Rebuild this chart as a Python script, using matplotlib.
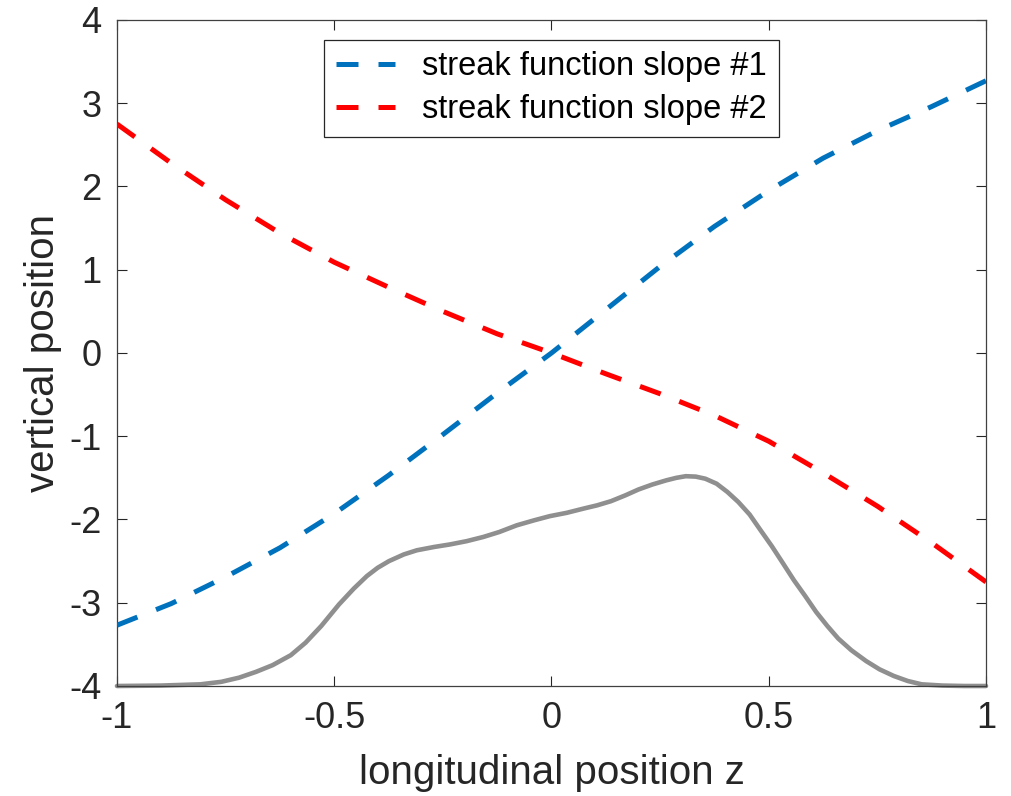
import numpy as np
import matplotlib
matplotlib.use("Agg")
import matplotlib.pyplot as plt

plt.rcParams["font.family"] = ["Liberation Sans", "DejaVu Sans"]

# =========================
# Data
# =========================

z_slope = [-1.0, -0.875, -0.75, -0.625, -0.5, -0.375, -0.25, -0.125,
           0.0, 0.125, 0.25, 0.375, 0.5, 0.625, 0.75, 0.875, 1.0]

slope_1 = [-3.27, -3.01, -2.69, -2.34, -1.93, -1.47, -0.98, -0.48,
           0.0, 0.52, 1.04, 1.52, 1.95, 2.34, 2.67, 2.96, 3.27]

slope_2 = [2.75, 2.28, 1.84, 1.44, 1.09, 0.79, 0.50, 0.23,
           0.0, -0.25, -0.49, -0.75, -1.06, -1.44, -1.84, -2.28, -2.75]

z_profile = [-1.0, -0.9, -0.808, -0.76, -0.719, -0.68, -0.642, -0.6, -0.566, -0.53,
             -0.489, -0.455, -0.425, -0.4, -0.374, -0.34, -0.31, -0.27, -0.234, -0.195,
             -0.157, -0.12, -0.08, -0.04, -0.004, 0.035, 0.073, 0.105, 0.137, 0.17,
             0.2, 0.232, 0.264, 0.287, 0.309, 0.332, 0.354, 0.38, 0.405, 0.43,
             0.456, 0.48, 0.507, 0.532, 0.558, 0.584, 0.609, 0.635, 0.66, 0.69,
             0.724, 0.755, 0.788, 0.82, 0.852, 0.9, 0.95, 1.0]

profile = [-4.0, -3.995, -3.98, -3.95, -3.9, -3.83, -3.75, -3.63, -3.48, -3.28,
           -3.02, -2.83, -2.68, -2.58, -2.5, -2.42, -2.37, -2.33, -2.30, -2.26,
           -2.21, -2.15, -2.07, -2.01, -1.96, -1.92, -1.87, -1.83, -1.78, -1.71,
           -1.64, -1.58, -1.53, -1.50, -1.48, -1.485, -1.51, -1.57, -1.67, -1.79,
           -1.94, -2.12, -2.32, -2.52, -2.73, -2.92, -3.11, -3.28, -3.43, -3.57,
           -3.70, -3.80, -3.88, -3.94, -3.98, -3.995, -4.0, -4.0]

labels = ["streak function slope #1", "streak function slope #2"]

# =========================
# Plot
# =========================

fig = plt.figure(figsize=(10.12, 7.96), dpi=100)
ax = fig.add_axes([0.1156, 0.1382, 0.8587, 0.8367])

ax.plot(z_profile, profile, color="#8f8f8f", linewidth=3.3,
        solid_capstyle="round", solid_joinstyle="round", clip_on=False, zorder=2)

ax.plot(z_slope, slope_1, color="#0072BD", linewidth=3.6,
        linestyle=(0, (4.4, 4.0)), dash_capstyle="butt", label=labels[0], zorder=3)
ax.plot(z_slope, slope_2, color="#FF0000", linewidth=3.6,
        linestyle=(0, (4.4, 4.0)), dash_capstyle="butt", label=labels[1], zorder=3)

ax.set_xlim(-1, 1)
ax.set_ylim(-4, 4)
ax.set_xticks([-1, -0.5, 0, 0.5, 1])
ax.set_xticklabels(["-1", "-0.5", "0", "0.5", "1"])
ax.set_yticks(range(-4, 5))
ax.set_yticklabels([str(v) for v in range(-4, 5)])

ax.tick_params(direction="in", length=7, width=0.8, color="#262626",
               labelsize=26, labelcolor="#262626", pad=11,
               top=True, right=True)
for sp in ax.spines.values():
    sp.set_color("#404040")
    sp.set_linewidth(0.9)

ax.set_xlabel("longitudinal position z", fontsize=29, color="#262626", labelpad=13)
ax.set_ylabel("vertical position", fontsize=29, color="#262626", labelpad=5)

leg = ax.legend(loc="upper center", bbox_to_anchor=(0.5, 0.97), borderaxespad=0,
                fontsize=23.5, frameon=True, fancybox=False, framealpha=1,
                edgecolor="#262626", handlelength=1.8, handletextpad=0.85,
                borderpad=0.35, labelspacing=0.36)
leg.get_frame().set_linewidth(0.9)

fig.savefig("out.png", dpi=100)
